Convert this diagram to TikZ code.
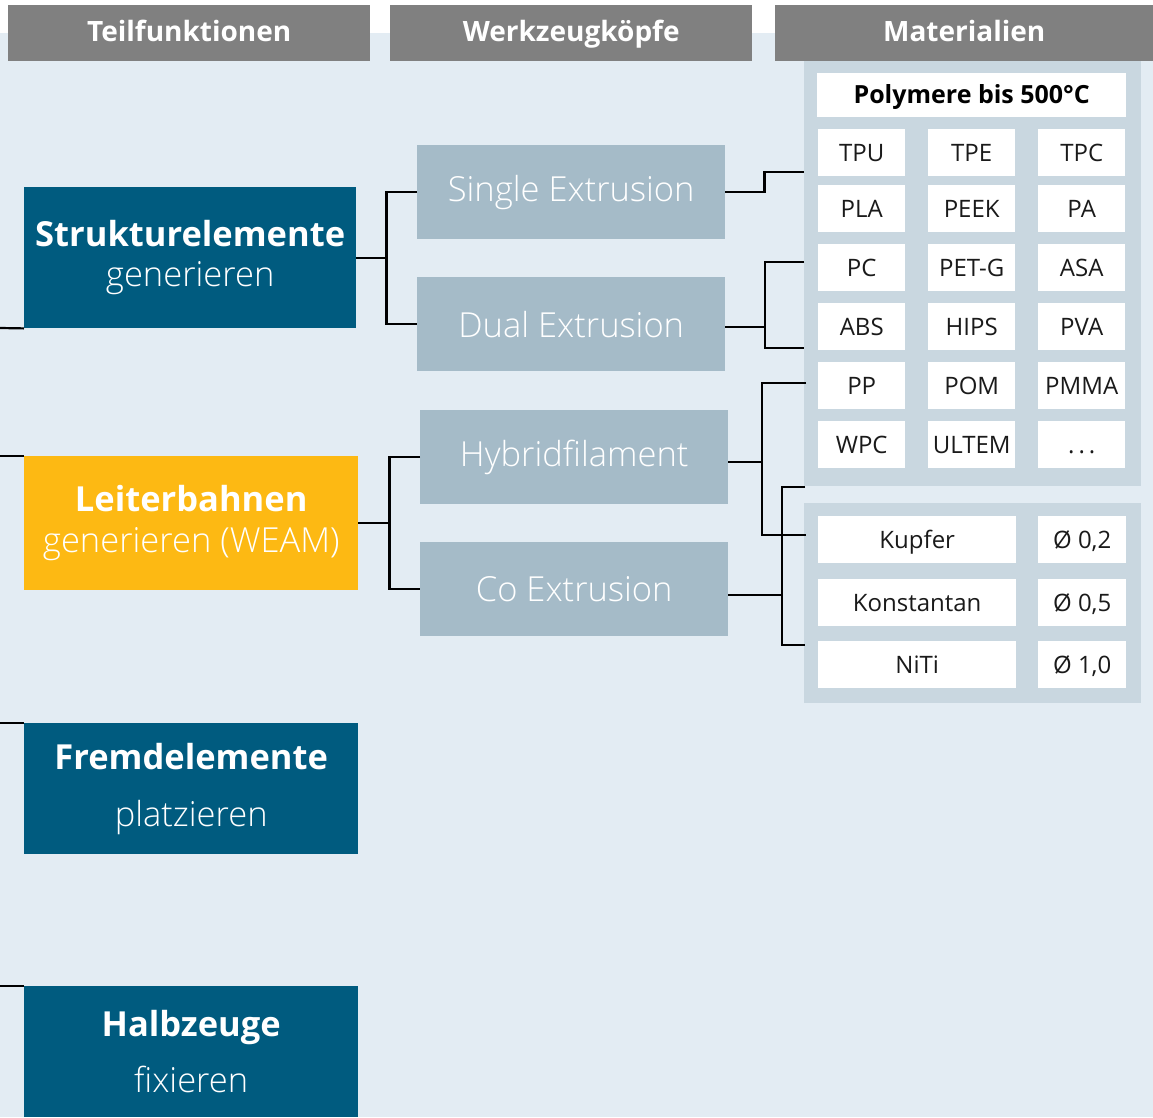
\documentclass[tikz,border=0pt]{standalone}
\usepackage{fontspec}
\setmainfont{Open Sans}
\newfontfamily\lightfont{Open Sans Light}
\usepackage{tikz}
\usetikzlibrary{positioning}
\usepackage{xcolor}
\definecolor{bgblue}{RGB}{227,236,243}
\definecolor{hdrgray}{RGB}{128,128,128}
\definecolor{funcblue}{RGB}{0,91,127}
\definecolor{funcyellow}{RGB}{253,185,19}
\definecolor{headblue}{RGB}{165,187,200}
\definecolor{panelblue}{RGB}{201,215,224}
\definecolor{celltext}{RGB}{26,26,26}

\begin{document}
\begin{tikzpicture}[x=1pt, y=-1pt,
    box/.style={inner sep=0pt, anchor=north west, align=center},
    hdr/.style={box, fill=hdrgray, text=white, minimum height=56pt,
      text height=21pt, text depth=4pt,
      font=\fontsize{28}{30}\selectfont\bfseries},
    func/.style={box, fill=funcblue, text=white, minimum width=334pt,
      minimum height=131pt, font=\fontsize{34.5}{40}\selectfont},
    head/.style={box, fill=headblue, text=white, minimum width=308pt,
      minimum height=94pt, font=\lightfont\fontsize{34.5}{40}\selectfont},
    cell/.style={box, fill=white, text=celltext, minimum height=47pt,
      text height=17.5pt, text depth=0pt, font=\fontsize{24}{28}\selectfont},
    link/.style={line width=2.2pt}]
  \useasboundingbox (0,0) rectangle (1153,1117);
  \fill[bgblue] (0,33) rectangle (1153,1117);
  % panels behind the materials
  \fill[panelblue] (804,61) rectangle (1141,486);
  \fill[panelblue] (804,503) rectangle (1141,703);

  \node[hdr, minimum width=362pt] (h1) at (8,5) {Teilfunktionen};
  \node[hdr, minimum width=362pt] (h2) at (390,5) {Werkzeugköpfe};
  \node[hdr, minimum width=378pt] (h3) at (775,5) {Materialien};

  % Teilfunktionen
  \node[func, minimum width=332pt, minimum height=141pt] (struk) at (24,187)
    {\textbf{Strukturelemente}\\{\lightfont generieren}};
  \node[func, fill=funcyellow, minimum height=134pt] (leiter) at (24,456)
    {\textbf{Leiterbahnen}\\[1pt]{\lightfont generieren (WEAM)}};
  \node[func] (fremd) at (24,723)
    {\textbf{Fremdelemente}\\[17pt]{\lightfont platzieren}};
  \node[func] (halb) at (24,986)
    {\textbf{Halbzeuge}\\[16pt]{\lightfont fixieren}};

  % Werkzeugkoepfe
  \node[head] (single) at (417,145) {Single Extrusion};
  \node[head] (dual) at (417,277) {Dual Extrusion};
  \node[head] (hybrid) at (420,410) {Hybridfilament};
  \node[head] (coex) at (420,542) {Co Extrusion};

  % Materialien
  \node[cell, minimum width=309pt, minimum height=44pt,
    font=\fontsize{25}{28}\selectfont\bfseries, text=black] (poly) at (817,73)
    {Polymere bis 500°C};
  \foreach \name/\col/\row [count=\i] in {TPU/818/129, TPE/928/129, TPC/1038/129,
      PLA/818/185, PEEK/928/185, PA/1038/185, PC/818/244, PET-G/928/244,
      ASA/1038/244, ABS/818/303, HIPS/928/303, PVA/1038/303, PP/818/362,
      POM/928/362, PMMA/1038/362, WPC/818/421, ULTEM/928/421, {.\,.\,.}/1038/421}
    \node[cell, minimum width=87pt] (p\i) at (\col,\row) {\name};
  \foreach \name/\dia/\row [count=\i] in {Kupfer/{0,2}/516, Konstantan/{0,5}/579,
      NiTi/{1,0}/641} {
    \node[cell, minimum width=198pt] (w\i) at (818,\row) {\name};
    \node[cell, minimum width=88pt] (d\i) at (1038,\row) {Ø \dia};
  }

  % left side lines
  \coordinate (e1) at (0,328);
  \coordinate (e2) at (0,456);
  \coordinate (e3) at (0,723);
  \coordinate (e4) at (0,986);
  \draw[link] (e1) -- (struk.south west);
  \draw[link] (e2) -- (leiter.north west);
  \draw[link] (e3) -- (fremd.north west);
  \draw[link] (e4) -- (halb.north west);

  % Teilfunktionen -> Werkzeugkoepfe
  \coordinate (j1) at ([xshift=30pt]struk.east);
  \coordinate (j2) at ([xshift=31pt]leiter.east);
  \draw[link] (struk.east) -- (j1);
  \draw[link] (single.west) -| (j1) |- (dual.west);
  \draw[link] (leiter.east) -- (j2);
  \draw[link] (hybrid.west) -| (j2) |- (coex.west);

  % Werkzeugkoepfe -> Materialien
  \coordinate (k1) at ([xshift=39pt]single.east);
  \coordinate (k2) at (765,327);
  \coordinate (k3) at (762,462);
  \coordinate (k4) at (782,595);
  \coordinate (m1) at (804,172);
  \coordinate (m2) at (804,262);
  \coordinate (m3) at (804,348);
  \coordinate (m4) at (806,383);
  \coordinate (m5) at (806,535);
  \coordinate (m6) at (805,487);
  \coordinate (m7) at (805,645);
  \draw[link] (single.east) -- (k1) |- (m1);
  \draw[link] (dual.east |- k2) -- (k2);
  \draw[link] (m2) -| (k2) |- (m3);
  \draw[link] (hybrid.east |- k3) -- (k3);
  \draw[link] (m4) -| (k3) |- (m5);
  \draw[link] (coex.east |- k4) -- (k4);
  \draw[link] (m6) -| (k4) |- (m7);
\end{tikzpicture}
\end{document}
